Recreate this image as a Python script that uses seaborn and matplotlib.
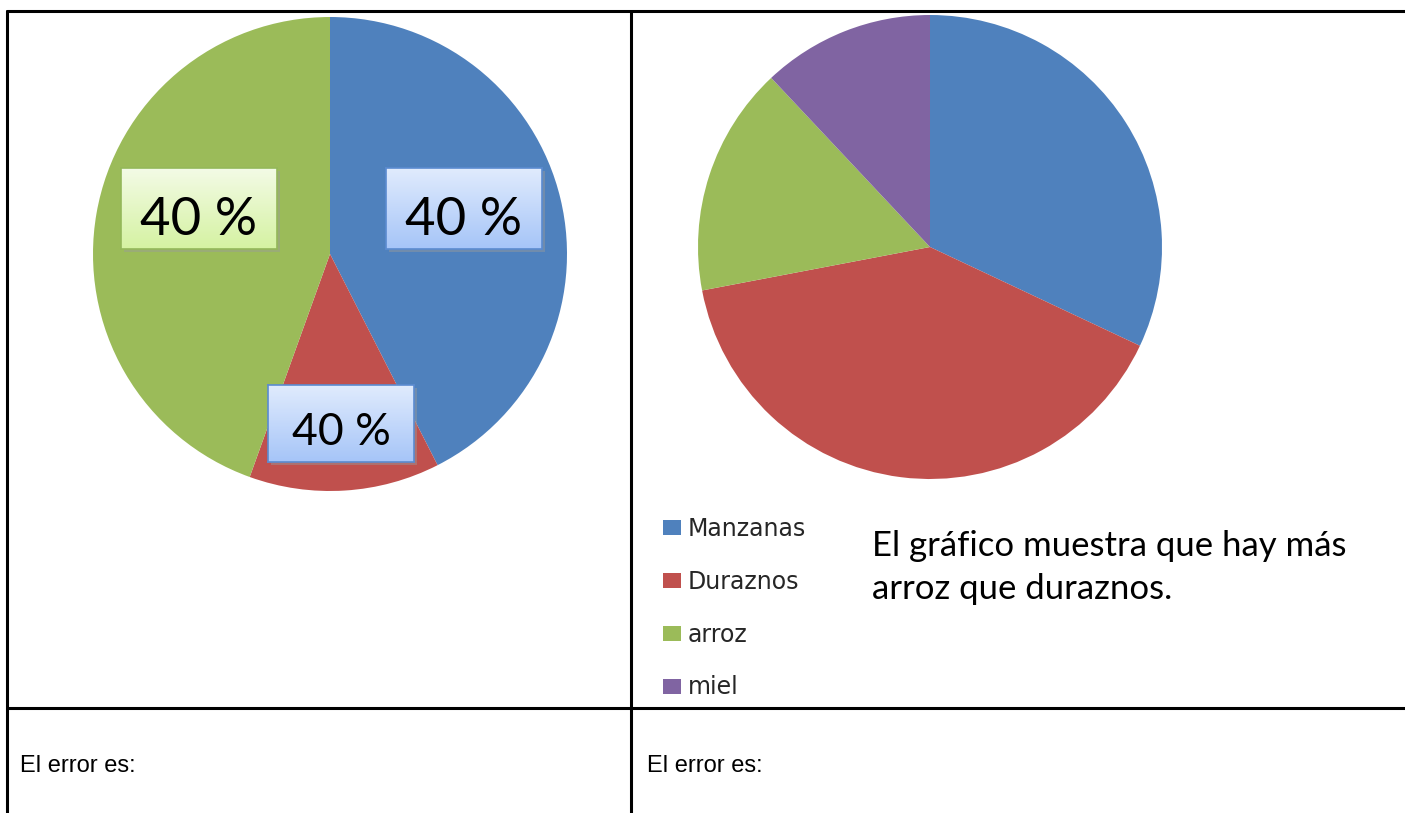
import matplotlib
matplotlib.use("Agg")
import matplotlib.pyplot as plt
import seaborn as sns
import numpy as np
from matplotlib.lines import Line2D

sns.set_theme(style="white")
plt.rcParams['font.family'] = ['DejaVu Sans']

# ---------------- data ----------------
left_categories = ["Manzanas", "Duraznos", "arroz"]
left_values = [42.5, 13, 44.5]
left_labels = ["40 %", "40 %", "40 %"]

right_categories = ["Manzanas", "Duraznos", "arroz", "miel"]
right_values = [32, 40, 16, 12]

statement_lines = ["El gráfico muestra que hay más", "arroz que duraznos."]
error_label = "El error es:"

palette = sns.color_palette(["#4f81bd", "#c0504d", "#9bbb59", "#8064a2"])

# ---------------- figure ----------------
W, H = 1405, 813
fig = plt.figure(figsize=(W / 100, H / 100), dpi=100)
fig.patch.set_facecolor("white")


def fbox(x0, y0, x1, y1):
    return [x0 / W, 1 - y1 / H, (x1 - x0) / W, (y1 - y0) / H]


def fx(x):
    return x / W


def fy(y):
    return 1 - y / H


# left pie
ax_l = fig.add_axes(fbox(93, 17, 567, 491), zorder=1)
ax_l.pie(left_values, colors=palette[:3], startangle=90, counterclock=False,
         wedgeprops=dict(linewidth=0))
ax_l.set_xlim(-1, 1)
ax_l.set_ylim(-1, 1)
ax_l.set_axis_off()

# right pie
ax_r = fig.add_axes(fbox(698, 15, 1162, 479), zorder=1)
wedges, _ = ax_r.pie(right_values, colors=palette[:4], startangle=90,
                     counterclock=False, wedgeprops=dict(linewidth=0))
ax_r.set_xlim(-1, 1)
ax_r.set_ylim(-1, 1)
ax_r.set_axis_off()

ax_r.legend(wedges, right_categories, loc="upper left",
            bbox_to_anchor=(fx(663), fy(517)), bbox_transform=fig.transFigure,
            frameon=False, fontsize=17, handlelength=0.76, handleheight=0.6,
            handletextpad=0.3, labelspacing=1.22, borderpad=0, borderaxespad=0)

# label boxes on the left pie (gradient callouts)
boxes = [
    # x0, y0, x1, y1, top colour, bottom colour, edge, baseline, fontsize
    (386, 168, 542, 249, "#e0ebfd", "#a6c5f8", "#5b8bd0", 235, 38),
    (268, 385, 414, 462, "#e0ebfd", "#a6c5f8", "#5b8bd0", 445, 32),
    (121, 168, 277, 249, "#f3fbe6", "#d5f2a2", "#94b85a", 235, 38),
]
for (x0, y0, x1, y1, ctop, cbot, edge, base, fs), lab in zip(boxes, left_labels):
    sh = fig.add_axes(fbox(x0 + 3, y0 + 3, x1 + 3, y1 + 3), zorder=2)
    sh.set_facecolor("#9a9a9a")
    sh.patch.set_alpha(0.45)
    sh.set_xticks([]); sh.set_yticks([])
    for s in sh.spines.values():
        s.set_visible(False)
    axb = fig.add_axes(fbox(x0, y0, x1, y1), zorder=3)
    t = np.linspace(0, 1, 64)[:, None, None]
    c1 = np.array(matplotlib.colors.to_rgb(ctop))[None, None, :]
    c2 = np.array(matplotlib.colors.to_rgb(cbot))[None, None, :]
    grad = c1 * (1 - t) + c2 * t
    axb.imshow(grad, aspect="auto", extent=[0, 1, 0, 1], origin="upper")
    axb.set_xticks([]); axb.set_yticks([])
    for s in axb.spines.values():
        s.set_color(edge)
        s.set_linewidth(1.2)
    fig.text(fx((x0 + x1) / 2), fy(base), lab, ha="center", va="baseline",
             fontsize=fs, family=["Lato", "DejaVu Sans"], color="black",
             zorder=5)

# statement text
fig.text(fx(872), fy(556), statement_lines[0], ha="left", va="baseline",
         fontsize=25, family=["Lato", "DejaVu Sans"], color="black")
fig.text(fx(872), fy(599), statement_lines[1], ha="left", va="baseline",
         fontsize=25, family=["Lato", "DejaVu Sans"], color="black")

# bottom row labels
fig.text(fx(20), fy(766), error_label, ha="left", va="center", fontsize=17,
         family=["Liberation Sans", "DejaVu Sans"], color="black")
fig.text(fx(647), fy(766), error_label, ha="left", va="center", fontsize=17,
         family=["Liberation Sans", "DejaVu Sans"], color="black")

# table grid
lw = 2.2
for xs, ys in [([7, W], [11, 11]), ([7, 7], [11, H]), ([631, 631], [11, H]),
               ([7, W], [708, 708])]:
    fig.add_artist(Line2D([fx(v) for v in xs], [fy(v) for v in ys],
                          transform=fig.transFigure, color="black", lw=lw,
                          zorder=10))

fig.savefig("out.png", dpi=100, facecolor="white")
